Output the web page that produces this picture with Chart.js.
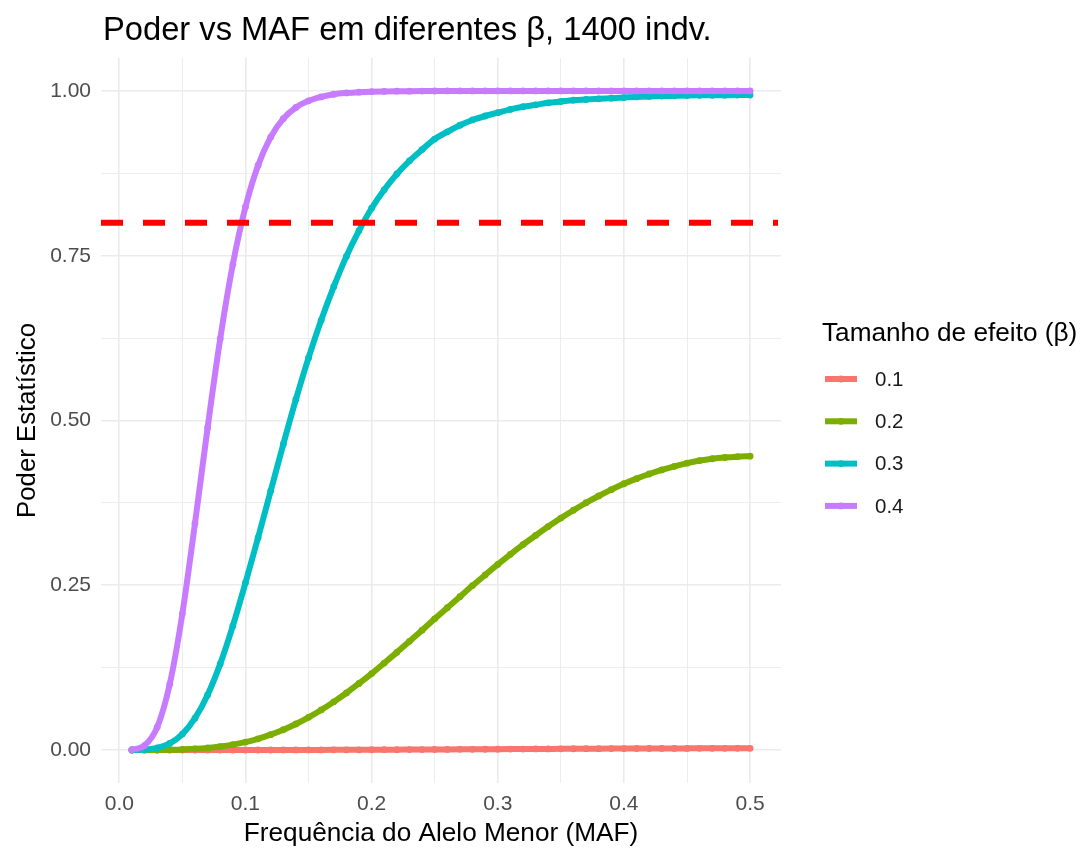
<!DOCTYPE html>
<html>
<head>
<meta charset="utf-8">
<title>Poder vs MAF</title>
<script src="https://cdn.jsdelivr.net/npm/chart.js@4.4.1/dist/chart.umd.min.js"></script>
<style>
  html, body { margin: 0; padding: 0; background: #ffffff; }
  #wrap { width: 1087px; height: 851px; }
</style>
</head>
<body>
<div id="wrap"><canvas id="chart" width="1087" height="851"></canvas></div>
<script>
// Minor allele frequency grid
const maf = [
  0.01, 0.02, 0.03, 0.04, 0.05, 0.06, 0.07, 0.08, 0.09, 0.10,
  0.11, 0.12, 0.13, 0.14, 0.15, 0.16, 0.17, 0.18, 0.19, 0.20,
  0.21, 0.22, 0.23, 0.24, 0.25, 0.26, 0.27, 0.28, 0.29, 0.30,
  0.31, 0.32, 0.33, 0.34, 0.35, 0.36, 0.37, 0.38, 0.39, 0.40,
  0.41, 0.42, 0.43, 0.44, 0.45, 0.46, 0.47, 0.48, 0.49, 0.50
];

// Statistical power per effect size (beta)
const power01 = [
  0, 0, 0, 0, 0.00001, 0.00002, 0.00002, 0.00003, 0.00005, 0.00006,
  0.00008, 0.0001, 0.00013, 0.00016, 0.0002, 0.00025, 0.0003, 0.00035, 0.0004, 0.00046,
  0.00053, 0.0006, 0.00068, 0.00076, 0.00085, 0.00094, 0.00104, 0.00114, 0.00124, 0.00134,
  0.00144, 0.00154, 0.00164, 0.00174, 0.00184, 0.00193, 0.00201, 0.00209, 0.00217, 0.00225,
  0.00231, 0.00237, 0.00243, 0.00248, 0.00253, 0.00258, 0.00262, 0.00265, 0.00267, 0.00268
];
const power02 = [
  0.00001, 0.00004, 0.0001, 0.0004, 0.0009, 0.0018, 0.0032, 0.0053, 0.0082, 0.0121,
  0.0171, 0.0233, 0.0308, 0.0395, 0.0496, 0.0608, 0.0731, 0.0866, 0.1010, 0.1160,
  0.1320, 0.1482, 0.1650, 0.1819, 0.1991, 0.2159, 0.2327, 0.2495, 0.2657, 0.2816,
  0.2970, 0.3117, 0.3256, 0.3391, 0.3520, 0.3639, 0.3752, 0.3855, 0.3951, 0.4040,
  0.4118, 0.4188, 0.4250, 0.4305, 0.4353, 0.4392, 0.4420, 0.4439, 0.4451, 0.4459
];
const power03 = [
  0.0001, 0.0007, 0.0032, 0.0101, 0.0243, 0.0484, 0.0836, 0.1307, 0.1883, 0.2537,
  0.3222, 0.393, 0.464, 0.532, 0.595, 0.652, 0.703, 0.749, 0.788, 0.822,
  0.850, 0.874, 0.894, 0.911, 0.927, 0.938, 0.948, 0.956, 0.962, 0.967,
  0.972, 0.976, 0.979, 0.982, 0.984, 0.986, 0.987, 0.988, 0.989, 0.990,
  0.991, 0.9917, 0.9922, 0.9926, 0.9930, 0.9933, 0.9935, 0.9936, 0.9937, 0.9937
];
const power04 = [
  0.0005, 0.0068, 0.0345, 0.1000, 0.207, 0.344, 0.489, 0.624, 0.737, 0.824,
  0.887, 0.930, 0.958, 0.975, 0.985, 0.991, 0.995, 0.9970, 0.9982, 0.9989,
  0.9993, 0.9996, 0.9997, 0.9998, 0.9999, 1, 1, 1, 1, 1,
  1, 1, 1, 1, 1, 1, 1, 1, 1, 1,
  1, 1, 1, 1, 1, 1, 1, 1, 1, 1
];

const betaLabels = ['0.1', '0.2', '0.3', '0.4'];
const seriesColors = ['#F8766D', '#7CAE00', '#00BFC4', '#C77CFF'];
const xMajorTicks = [0, 0.1, 0.2, 0.3, 0.4, 0.5];
const xMinorTicks = [0.05, 0.15, 0.25, 0.35, 0.45];
const yMajorTicks = [0, 0.25, 0.5, 0.75, 1];
const yMinorTicks = [0.125, 0.375, 0.625, 0.875];
const powerThreshold = 0.8;

const chartTitle = 'Poder vs MAF em diferentes β, 1400 indv.';
const xTitle = 'Frequência do Alelo Menor (MAF)';
const yTitle = 'Poder Estatístico';
const legendTitle = 'Tamanho de efeito (β)';

const FONT = '"Liberation Sans", Arial, Helvetica, sans-serif';
const GRID = '#EBEBEB';
const TICK_TEXT = '#4D4D4D';

const allSeries = [power01, power02, power03, power04];

const isMajor = (list, v) => list.some(m => Math.abs(m - v) < 1e-9);

const datasets = allSeries.map((vals, i) => ({
  label: betaLabels[i],
  data: maf.map((m, k) => ({ x: m, y: vals[k] })),
  borderColor: seriesColors[i],
  backgroundColor: seriesColors[i],
  pointBackgroundColor: seriesColors[i],
  pointBorderWidth: 0,
  pointRadius: 3.4,
  borderWidth: 6,
  cubicInterpolationMode: 'monotone',
  fill: false,
  order: allSeries.length - i
}));

// dashed reference line at the target power
const thresholdLine = {
  id: 'thresholdLine',
  afterDatasetsDraw(chart) {
    const { ctx, chartArea, scales } = chart;
    const y = scales.y.getPixelForValue(powerThreshold);
    ctx.save();
    ctx.strokeStyle = '#FF0000';
    ctx.lineWidth = 6;
    ctx.setLineDash([22, 20]);
    ctx.lineCap = 'butt';
    ctx.beginPath();
    ctx.moveTo(chartArea.left, y);
    ctx.lineTo(chartArea.right - 3, y);
    ctx.stroke();
    ctx.restore();
  }
};

// plot title and the effect-size key on the right
const titleAndKey = {
  id: 'titleAndKey',
  afterDraw(chart) {
    const { ctx } = chart;
    ctx.save();
    ctx.fillStyle = '#000000';
    ctx.textBaseline = 'middle';
    ctx.textAlign = 'left';
    ctx.font = '32.7px ' + FONT;
    ctx.fillText(chartTitle, 103, 31);

    ctx.font = '26.2px ' + FONT;
    ctx.fillText(legendTitle, 822, 334);

    ctx.font = '20.5px ' + FONT;
    betaLabels.forEach((lab, i) => {
      const cy = 379 + i * 42.3;
      ctx.strokeStyle = seriesColors[i];
      ctx.lineWidth = 6;
      ctx.beginPath();
      ctx.moveTo(825, cy);
      ctx.lineTo(857, cy);
      ctx.stroke();
      ctx.fillStyle = seriesColors[i];
      ctx.beginPath();
      ctx.arc(841, cy, 3.4, 0, Math.PI * 2);
      ctx.fill();
      ctx.fillStyle = '#1A1A1A';
      ctx.fillText(lab, 875, cy + 1);
    });
    ctx.restore();
  }
};

new Chart(document.getElementById('chart'), {
  type: 'line',
  data: { datasets },
  options: {
    responsive: false,
    animation: false,
    devicePixelRatio: 1,
    layout: { padding: { top: 58, right: 306, bottom: 0, left: 0 } },
    plugins: {
      legend: { display: false },
      tooltip: { enabled: false },
      title: { display: false }
    },
    scales: {
      x: {
        type: 'linear',
        min: -0.0145,
        max: 0.5245,
        afterBuildTicks(axis) {
          axis.ticks = [...xMajorTicks, ...xMinorTicks].sort((a, b) => a - b).map(v => ({ value: v }));
        },
        afterFit(scale) { scale.height = 68; },
        border: { display: false },
        grid: {
          drawTicks: false,
          color: GRID,
          lineWidth: c => (c.tick && isMajor(xMajorTicks, c.tick.value)) ? 1.6 : 0.9
        },
        ticks: {
          autoSkip: false,
          maxRotation: 0,
          padding: 9,
          color: TICK_TEXT,
          font: { family: FONT, size: 21 },
          callback: v => isMajor(xMajorTicks, v) ? v.toFixed(1) : ''
        },
        title: {
          display: true,
          text: xTitle,
          color: '#000000',
          font: { family: FONT, size: 26.2 },
          padding: { top: 0, bottom: 2 }
        }
      },
      y: {
        type: 'linear',
        min: -0.05,
        max: 1.05,
        afterBuildTicks(axis) {
          axis.ticks = [...yMajorTicks, ...yMinorTicks].sort((a, b) => a - b).map(v => ({ value: v }));
        },
        afterFit(scale) { scale.width = 101; },
        border: { display: false },
        grid: {
          drawTicks: false,
          color: GRID,
          lineWidth: c => (c.tick && isMajor(yMajorTicks, c.tick.value)) ? 1.6 : 0.9
        },
        ticks: {
          autoSkip: false,
          padding: 10,
          color: TICK_TEXT,
          font: { family: FONT, size: 21 },
          callback: v => isMajor(yMajorTicks, v) ? v.toFixed(2) : ''
        },
        title: {
          display: true,
          text: yTitle,
          color: '#000000',
          font: { family: FONT, size: 25.8 },
          padding: { top: 12, bottom: 0 }
        }
      }
    }
  },
  plugins: [thresholdLine, titleAndKey]
});
</script>
</body>
</html>
